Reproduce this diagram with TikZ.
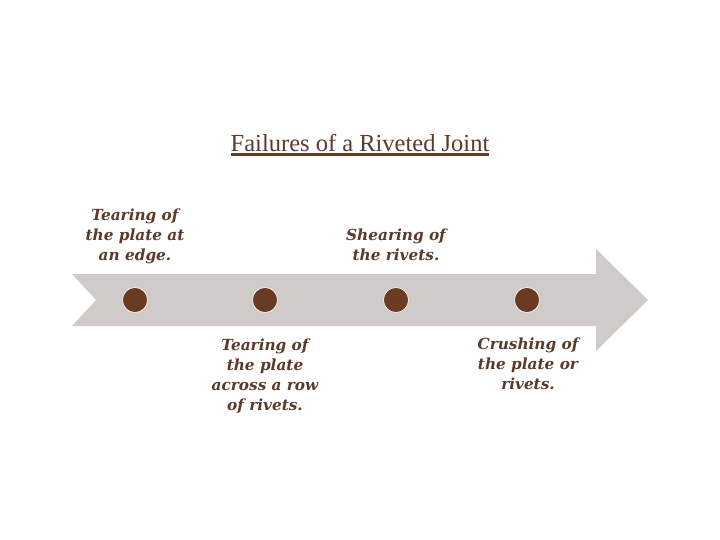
\documentclass[tikz,border=0pt]{standalone}
\usepackage{fontspec}
\setmainfont{Liberation Serif}
\newfontfamily\lblfont{DejaVu Serif}
\definecolor{arrowgray}{HTML}{D0CBC8}
\definecolor{rivet}{HTML}{6B3A22}
\definecolor{txt}{HTML}{5A3A2A}
\begin{document}
\begin{tikzpicture}[x=1pt,y=-1pt,
  lbl/.style={text=txt,font=\lblfont\fontsize{15.3}{19.8}\selectfont\bfseries\itshape,align=center,inner sep=0pt},
  rivetdot/.style={circle,fill=rivet,draw=white,line width=0.6pt,minimum size=25pt,inner sep=0pt}]
\useasboundingbox (0,0) rectangle (720,540);
\fill[white] (0,0) rectangle (720,540);
% arrow
\fill[arrowgray] (72,274) -- (596,274) -- (596,249) -- (648,300) -- (596,351) -- (596,326) -- (72,326) -- (96,300) -- cycle;
% title
\node[text=txt,font=\fontsize{24.5}{28}\selectfont,inner sep=0pt,anchor=base] (title) at (360,151.5) {Failures of a Riveted Joint};
\draw[rivet,line width=3pt] (title.base west) ++(0,3.5) coordinate (ul1) -- (ul1 -| title.base east);
% rivets
\node[rivetdot] (r1) at (135,300) {};
\node[rivetdot] (r2) at (265,300) {};
\node[rivetdot] (r3) at (396,300) {};
\node[rivetdot] (r4) at (527,300) {};
% labels (base = baseline of last line)
\node[lbl,anchor=base] (l1) at (135,260) {Tearing of\\the plate at\\an edge.};
\node[lbl,anchor=base] (l3) at (396,260) {Shearing of\\the rivets.};
\node[lbl,anchor=base] (l2) at (265,410) {Tearing of\\the plate\\across a row\\of rivets.};
\node[lbl,anchor=base] (l4) at (528,389.5) {Crushing of\\the plate or\\rivets.};
\end{tikzpicture}
\end{document}
